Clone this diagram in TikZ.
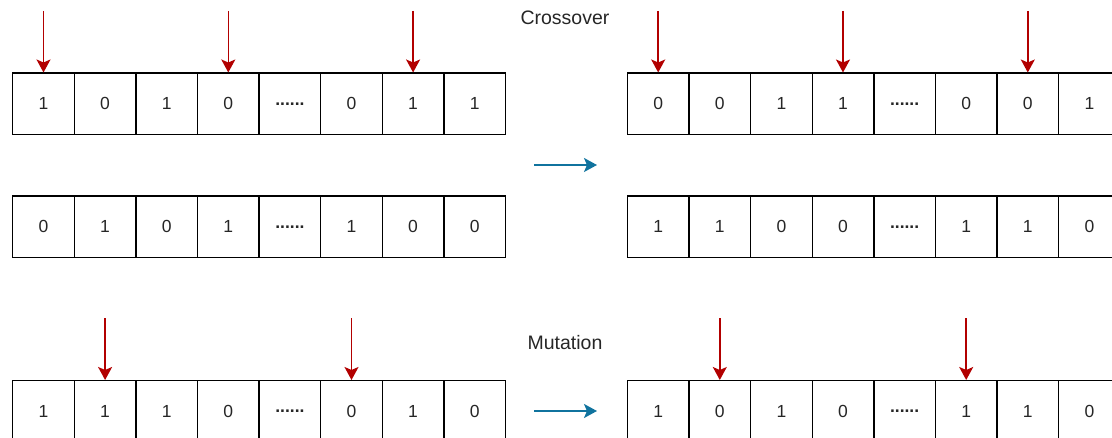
\documentclass[tikz,border=0pt]{standalone}
\usepackage{fontspec}
\setmainfont{Liberation Sans}
\usetikzlibrary{arrows.meta}
\definecolor{mutred}{HTML}{B20000}
\definecolor{flowblue}{HTML}{10739E}
\newcommand\celldots{\textbf{......}}
\tikzset{
  cell/.style={draw=black, line width=1.4pt, minimum width=61.6pt, minimum height=61.5pt,
    inner sep=0pt, anchor=north west, font=\fontsize{17.5}{20}\selectfont, text=black!85},
  pointer/.style={draw=mutred, line width=1.6pt, -{Stealth[length=13pt,width=14pt,inset=3pt]}},
  flow/.style={draw=flowblue, line width=1.7pt, -{Stealth[length=13pt,width=14pt,inset=3pt]}},
  caption/.style={font=\fontsize{19.5}{23}\selectfont, text=black!85}
}
\begin{document}
\begin{tikzpicture}[x=1pt,y=-1pt]
\useasboundingbox (0,0) rectangle (1112,438);

% chromosomes: one row of eight genes each
\foreach \row/\xo/\yo/\bits in {
    a/12/72.5/{1,0,1,0,\celldots,0,1,1},
    b/626.7/72.5/{0,0,1,1,\celldots,0,0,1},
    c/12/195.5/{0,1,0,1,\celldots,1,0,0},
    d/626.7/195.5/{1,1,0,0,\celldots,1,1,0},
    e/12/380/{1,1,1,0,\celldots,0,1,0},
    f/626.7/380/{1,0,1,0,\celldots,1,1,0}} {
  \foreach \b [count=\i] in \bits {
    \node[cell] (\row\i) at ({\xo+(\i-1)*61.6},\yo) {\b};
  }
}

% crossover / mutation points
\foreach \n/\i in {a/1,a/4,a/7,b/1,b/4,b/7,e/2,e/6,f/2,f/6} {
  \coordinate (p\n\i) at ([yshift=61.5pt]\n\i.north);
  \draw[pointer] (p\n\i) -- (\n\i.north);
}

% operation labels
\node[caption] (crosslabel) at (565,18) {Crossover};
\node[caption] (mutlabel) at (565,343) {Mutation};

% transformation arrows
\coordinate (fs1) at (534,165);
\coordinate (fe1) at (597,165);
\coordinate (fs2) at (534,411);
\coordinate (fe2) at (597,411);
\draw[flow] (fs1) -- (fe1);
\draw[flow] (fs2) -- (fe2);
\end{tikzpicture}
\end{document}
